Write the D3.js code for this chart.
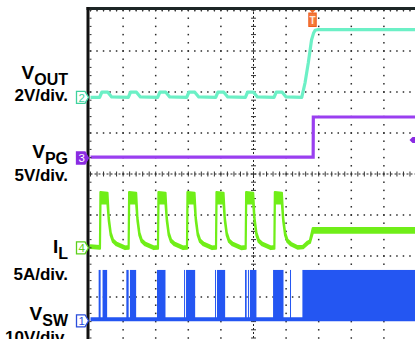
<!DOCTYPE html>
<html><head><meta charset="utf-8">
<script src="https://cdn.jsdelivr.net/npm/d3@7"></script>
<style>html,body{margin:0;padding:0;background:#fff;overflow:hidden}svg{display:block}</style>
</head><body>
<svg id="c" width="415" height="339"></svg>
<script>
// ---------------- DATA (time in divisions, 10 div across) ----------------
const chNumber      = [2, 3, 4, 1];
const chVoltsPerDiv = [2, 5, 5, 10];
const chGroundDiv   = [1.87, 0.39, -1.80, -3.58];   // ground marker position (div above centre)
const chLabelMain   = ["V", "V", "I", "V"];
const chLabelSub    = ["OUT", "PG", "L", "SW"];
const chLabelScale  = ["2V/div.", "5V/div.", "5A/div.", "10V/div."];

// V_OUT (V)
const voutT = [0, 0.28,0.35,0.53,0.65, 1.16,1.23,1.41,1.53, 2.06,2.13,2.31,2.43, 2.95,3.02,3.20,3.32,
               3.84,3.91,4.09,4.21, 4.75,4.82,5.00,5.12, 5.63,5.70,5.88,6.00,
               6.48,6.58,6.68,6.78,6.84,6.89,6.96,10];
const voutV = [0, 0,0.26,0.25,0.02, 0,0.26,0.25,0.02, 0,0.26,0.25,0.02, 0,0.26,0.25,0.02,
               0,0.26,0.25,0.02, 0,0.26,0.25,0.02, 0,0.26,0.25,0.02,
               0,0.70,1.67,2.80,3.12,3.27,3.30,3.30];

// V_PG (V)
const vpgT = [0, 6.83, 6.835, 10];
const vpgV = [0.12, 0.12, 5.0, 5.0];

// I_L envelope (A)
const ilT  = [0,0.28,
  0.29,0.305,0.52,0.56,0.62,0.69,0.80,1.06,
  1.17,1.185,1.40,1.44,1.50,1.57,1.68,1.94,
  2.07,2.085,2.30,2.34,2.40,2.47,2.58,2.84,
  2.96,2.975,3.19,3.23,3.29,3.36,3.47,3.73,
  3.85,3.865,4.08,4.12,4.18,4.25,4.36,4.62,
  4.76,4.775,4.99,5.03,5.09,5.16,5.27,5.53,
  5.64,5.655,5.87,5.91,5.97,6.04,6.15,
  6.35,6.52,6.66,6.73,6.82,10];
const ilLo = [0.0,-0.1,
  -0.1,5.4,5.4,3.3,1.5,0.7,0.3,-0.15,
  -0.1,5.4,5.4,3.3,1.5,0.7,0.3,-0.15,
  -0.1,5.4,5.4,3.3,1.5,0.7,0.3,-0.15,
  -0.1,5.4,5.4,3.3,1.5,0.7,0.3,-0.15,
  -0.1,5.4,5.4,3.3,1.5,0.7,0.3,-0.15,
  -0.1,5.4,5.4,3.3,1.5,0.7,0.3,-0.15,
  -0.1,5.4,5.4,3.3,1.5,0.7,0.3,
  -0.1,-0.05,0.45,0.6,1.85,1.85];
const ilHi = [0.3,0.2,
  0.2,6.8,6.7,3.7,1.85,1.0,0.6,0.15,
  0.2,6.8,6.7,3.7,1.85,1.0,0.6,0.15,
  0.2,6.8,6.7,3.7,1.85,1.0,0.6,0.15,
  0.2,6.8,6.7,3.7,1.85,1.0,0.6,0.15,
  0.2,6.8,6.7,3.7,1.85,1.0,0.6,0.15,
  0.2,6.8,6.7,3.7,1.85,1.0,0.6,0.15,
  0.2,6.8,6.7,3.7,1.85,1.0,0.6,
  0.2,0.25,0.75,0.9,2.4,2.4];

// V_SW: baseline + switching bursts (V)
const vswBase = 0.37;
const vswHigh = 12.4;
const vswBurstStart = [0.25,0.37, 1.10,1.21, 2.04, 2.87,2.93, 3.82,3.88, 4.74,4.83,4.89, 5.60, 6.12, 6.50];
const vswBurstEnd   = [0.31,0.51, 1.17,1.40, 2.30, 2.90,3.21, 3.85,4.13, 4.79,4.86,5.09, 5.92, 6.15, 10];

const triggerTime = 6.81;     // div
const triggerLevel = 2.2;     // V on V_PG

// ---------------- LAYOUT ----------------
const W = 415, H = 339;
const x0 = 90.5, dx = 32.6, yTop = 10, dy = 41;
const colors = {2:"#6cf0c6", 3:"#9a3ff0", 4:"#70ee18", 1:"#2456f2"};
const markerColors = {2:"#3fd29e", 3:"#8a2be2", 4:"#5cd01a", 1:"#2a4ddc"};
const labelPos = [ {main:79, scale:101}, {main:158, scale:181}, {main:253, scale:280}, {main:320, scale:343} ];

const svg = d3.select("#c");
const x = d3.scaleLinear().domain([0,10]).range([x0, x0+10*dx]);
const yDiv = d3.scaleLinear().domain([-4,4]).range([yTop+8*dy, yTop]);
const chY = chNumber.map((n,i)=> d3.scaleLinear()
  .domain([(-4-chGroundDiv[i])*chVoltsPerDiv[i], (4-chGroundDiv[i])*chVoltsPerDiv[i]])
  .range([yTop+8*dy, yTop]));

// ---------------- GRID ----------------
const grid = svg.append("g");
const minorX = d3.range(0, 50.01).map(k=>k/5);
const minorY = d3.range(0, 40.01).map(k=>-4+k/5);
[1,2,3,4,6,7,8,9].forEach(i=>{
  grid.selectAll(null).data(minorY).enter().append("rect")
    .attr("x", x(i)-0.75).attr("y", d=>yDiv(d)-0.75).attr("width",1.5).attr("height",1.5).attr("fill","#2a2a2a");
});
[-3,-2,-1,1,2,3,4].forEach(j=>{
  grid.selectAll(null).data(minorX).enter().append("rect")
    .attr("x", d=>x(d)-0.75).attr("y", yDiv(j)-0.75).attr("width",1.5).attr("height",1.5).attr("fill","#2a2a2a");
});
grid.append("line").attr("x1",x(0)).attr("x2",x(10)).attr("y1",yDiv(0)).attr("y2",yDiv(0))
  .attr("stroke","#222").attr("stroke-dasharray","2,2");
grid.append("line").attr("x1",x(5)).attr("x2",x(5)).attr("y1",yDiv(-4)).attr("y2",yDiv(4))
  .attr("stroke","#222").attr("stroke-dasharray","2,2");
grid.selectAll(null).data(minorX).enter().append("line")
  .attr("x1",d=>x(d)).attr("x2",d=>x(d)).attr("y1",yDiv(0)-2.5).attr("y2",yDiv(0)+2.5).attr("stroke","#333");
grid.selectAll(null).data(minorY).enter().append("line")
  .attr("x1",x(5)-2.5).attr("x2",x(5)+2.5).attr("y1",d=>yDiv(d)).attr("y2",d=>yDiv(d)).attr("stroke","#333");

// ---------------- TRACES ----------------
const iSW = 3, iIL = 2, iPG = 1, iOUT = 0;
const ySW = chY[iSW];
svg.append("line").attr("x1",x(0)).attr("x2",x(10)).attr("y1",ySW(vswBase)).attr("y2",ySW(vswBase))
  .attr("stroke",colors[1]).attr("stroke-width",4);
svg.selectAll(null).data(vswBurstStart.map((s,i)=>[s,vswBurstEnd[i]])).enter().append("rect")
  .attr("x",d=>x(d[0])).attr("width",d=>Math.max(1,x(d[1])-x(d[0])))
  .attr("y",ySW(vswHigh)).attr("height",ySW(0)-ySW(vswHigh))
  .attr("fill",colors[1]);

const yIL = chY[iIL];
const ilData = ilT.map((t,i)=>({t, lo:ilLo[i], hi:ilHi[i]}));
svg.append("path").datum(ilData)
  .attr("d", d3.area().x(d=>x(d.t)).y0(d=>yIL(d.lo)).y1(d=>yIL(d.hi)))
  .attr("fill",colors[4]).attr("stroke",colors[4]).attr("stroke-width",2.2).attr("stroke-linejoin","round");

const yPG = chY[iPG];
svg.append("path").datum(vpgT.map((t,i)=>({t,v:vpgV[i]})))
  .attr("d", d3.line().x(d=>x(d.t)).y(d=>yPG(d.v)))
  .attr("fill","none").attr("stroke",colors[3]).attr("stroke-width",3.2);

const yOUT = chY[iOUT];
svg.append("path").datum(voutT.map((t,i)=>({t,v:voutV[i]})))
  .attr("d", d3.line().x(d=>x(d.t)).y(d=>yOUT(d.v)))
  .attr("fill","none").attr("stroke",colors[2]).attr("stroke-width",3.2).attr("stroke-linejoin","round");

// ---------------- BORDERS ----------------
svg.append("rect").attr("x",86.5).attr("y",7).attr("width",W-86.5).attr("height",3).attr("fill","#1d2626");
svg.append("rect").attr("x",86.5).attr("y",7).attr("width",3).attr("height",H-7).attr("fill","#111");
svg.selectAll(null).data(minorX).enter().append("rect")
  .attr("x",d=>x(d)-0.5).attr("y",10).attr("width",1).attr("height",1.6).attr("fill","#333");
svg.selectAll(null).data(minorY).enter().append("rect")
  .attr("x",89.5).attr("y",d=>yDiv(d)-0.5).attr("width",2).attr("height",1).attr("fill","#333");

// ---------------- MARKERS ----------------
chNumber.forEach((n,i)=>{
  const yg = chY[i](0);
  const filled = n===3;
  svg.append("path")
    .attr("d",`M76.5,${yg-6} h8.5 l3.5,6 l-3.5,6 h-8.5 Z`)
    .attr("fill", filled ? markerColors[n] : "#fff")
    .attr("stroke", markerColors[n]).attr("stroke-width",1.3);
  svg.append("text").attr("x",81.8).attr("y",yg+4.2).attr("text-anchor","middle")
    .attr("font-family","Liberation Sans, Arial, sans-serif").attr("font-size",11.5)
    .attr("fill", filled ? "#fff" : markerColors[n]).text(n);
});
const tx = x(triggerTime);
svg.append("path").attr("d",`M${tx-3},10 L${tx+3},10 L${tx},13 Z`).attr("fill","#f06a28");
svg.append("rect").attr("x",tx-3.7).attr("y",13).attr("width",7.4).attr("height",13.5)
  .attr("fill","#f47a3a").attr("stroke","#ee5c1c").attr("stroke-width",1);
svg.append("text").attr("x",tx).attr("y",24).attr("text-anchor","middle")
  .attr("font-family","Liberation Sans, Arial, sans-serif").attr("font-weight","bold").attr("font-size",10)
  .attr("fill","#ffe8dc").text("T");
const ty = yPG(triggerLevel);
svg.append("path").attr("d",`M409.5,${ty} L412.5,${ty-3} L415,${ty-3} L415,${ty+3} L412.5,${ty+3} Z`)
  .attr("fill",markerColors[3]);

// ---------------- LABELS ----------------
chNumber.forEach((n,i)=>{
  const t = svg.append("text").attr("x",68).attr("y",labelPos[i].main).attr("text-anchor","end")
    .attr("font-family","Liberation Sans, Arial, sans-serif").attr("font-weight","bold").attr("fill","#000");
  t.append("tspan").attr("font-size",19).text(chLabelMain[i]);
  t.append("tspan").attr("font-size",16).attr("dy",6).text(chLabelSub[i]);
  svg.append("text").attr("x",68).attr("y",labelPos[i].scale).attr("text-anchor","end")
    .attr("font-family","Liberation Sans, Arial, sans-serif").attr("font-weight","bold")
    .attr("font-size",17).attr("fill","#000").text(chLabelScale[i]);
});
</script>
</body></html>
